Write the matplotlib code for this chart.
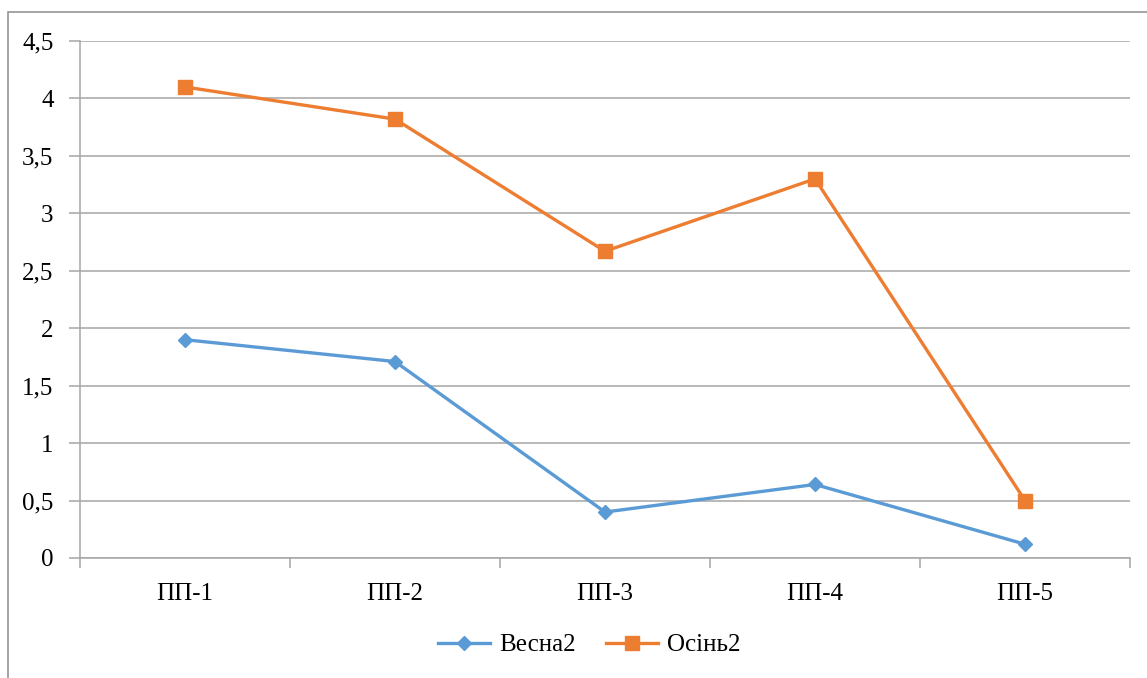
import matplotlib
matplotlib.use('Agg')
import matplotlib.pyplot as plt
from matplotlib.patches import Rectangle
from matplotlib.ticker import FuncFormatter, MultipleLocator

plt.rcParams['font.family'] = ['Liberation Serif', 'DejaVu Serif']

# дані
categories = ['ПП-1', 'ПП-2', 'ПП-3', 'ПП-4', 'ПП-5']
vesna2 = [1.9, 1.71, 0.4, 0.64, 0.12]
osin2 = [4.1, 3.82, 2.67, 3.3, 0.5]

BLUE = '#5B9BD5'
ORANGE = '#ED7D31'
GRID = '#A6A6A6'
FS = 18

fig = plt.figure(figsize=(11.47, 6.78), dpi=100)
ax = fig.add_axes([80 / 1147, 1 - 558 / 678, (1130 - 80) / 1147, (558 - 41) / 678])

x = list(range(len(categories)))
ax.plot(x, vesna2, color=BLUE, lw=2.4, marker='D', markersize=7.5, label='Весна2', zorder=3)
ax.plot(x, osin2, color=ORANGE, lw=2.4, marker='s', markersize=9.5, label='Осінь2', zorder=4)

ax.set_xlim(-0.5, len(categories) - 0.5)
ax.set_ylim(0, 4.5)
ax.yaxis.set_major_locator(MultipleLocator(0.5))
ax.yaxis.set_major_formatter(FuncFormatter(lambda v, p: f'{v:g}'.replace('.', ',')))
ax.grid(axis='y', color=GRID, lw=1.1)
ax.set_axisbelow(True)

# підписи категорій по центру, засічки на межах
ax.set_xticks(x)
ax.set_xticklabels(categories)
ax.set_xticks([i - 0.5 for i in range(len(categories) + 1)], minor=True)
ax.tick_params(axis='x', which='major', length=0, pad=18, labelsize=FS)
ax.tick_params(axis='x', which='minor', length=7, width=1.1, color=GRID)
ax.tick_params(axis='y', length=8, width=1.1, color=GRID, pad=11, labelsize=FS)

for s in ['top', 'right']:
    ax.spines[s].set_visible(False)
for s in ['left', 'bottom']:
    ax.spines[s].set_color(GRID)
    ax.spines[s].set_linewidth(1.1)

ax.legend(loc='center', bbox_to_anchor=(589 / 1147, (678 - 645) / 678), bbox_transform=fig.transFigure,
          ncol=2, frameon=False, fontsize=FS, handlelength=2.1, handletextpad=0.35, columnspacing=1.2)

# рамка діаграми
fig.patches.append(Rectangle((8 / 1147, -0.1), 2, 1 - 12 / 678 + 0.1, transform=fig.transFigure,
                             fill=False, edgecolor='#8C8C8C', lw=1.1, clip_on=False))

fig.savefig('out.png', dpi=100)
